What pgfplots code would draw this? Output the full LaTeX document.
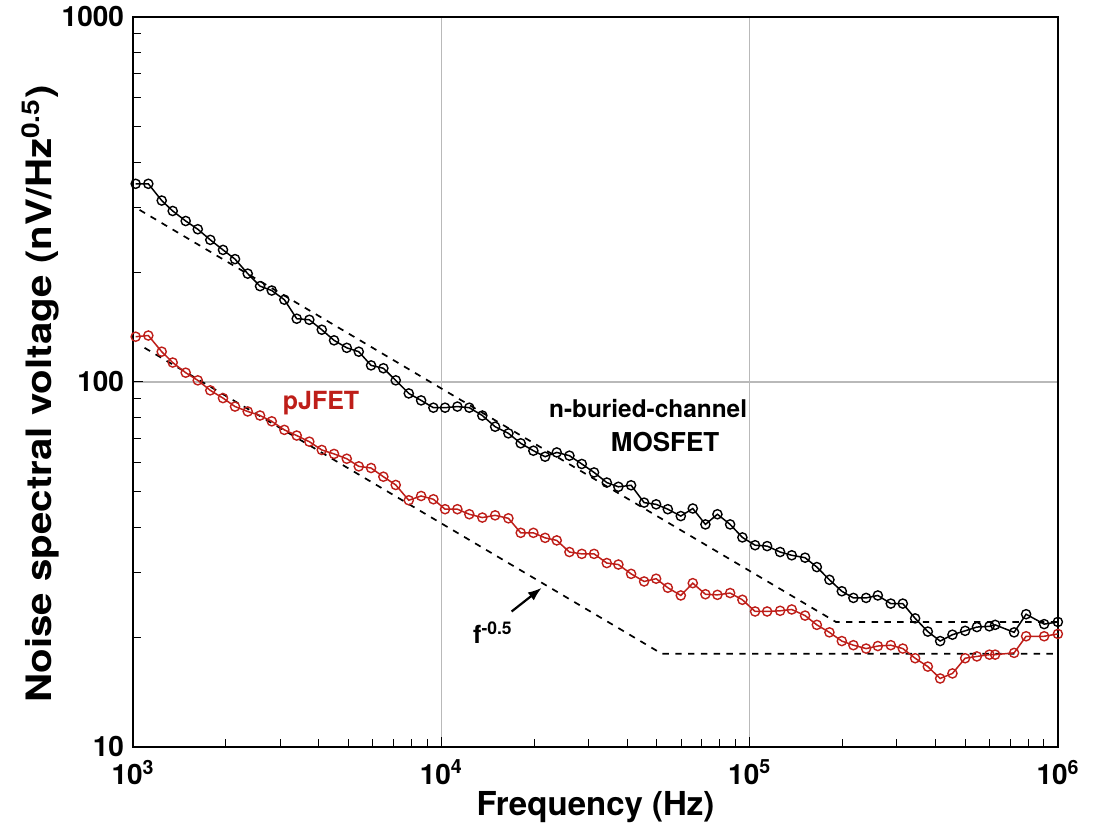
\documentclass[border=0pt]{standalone}
\usepackage{fontspec}
\setmainfont{TeX Gyre Heros}
\usepackage{pgfplots}
\pgfplotsset{compat=1.18}
\usepackage{pgfplotstable}
\usetikzlibrary{arrows.meta}
\definecolor{jred}{RGB}{190,30,25}

\pgfplotstableread{
f v
1020 349
1121 349
1239 314
1345 294
1482 276
1622 262
1781 245
1958 230
2142 217
2355 198
2582 183
2818 178
3096 168
3396 149
3731 148
4094 139
4487 130
4934 124
5397 121
5916 111
6485 109
7113 101
7841 93
8597 89
9422 85
10280 85
11270 85.6
12320 85
13580 80.9
14940 75.4
16500 72.3
18090 67.9
19880 64.8
21700 62.4
23670 64.1
26020 62.8
28540 59.6
31280 56.5
34400 53
37510 51.6
41240 52.1
45450 46.7
49720 46.2
54250 44.8
59780 42.9
65380 45
71840 40.7
78590 43.4
86400 40.7
94690 37.5
104100 35.7
113900 35.5
125500 34.2
136900 33.5
151200 33
165100 31.1
181400 28.7
199000 26.7
216900 25.6
238500 25.6
260300 26
286800 24.7
313700 24.7
344000 22.5
378200 20.7
414600 19.5
454500 20.3
499700 20.8
545400 21.3
599100 21.4
625200 21.6
720300 20.6
787900 23.1
901500 21.7
998600 22
}\mosfet

\pgfplotstableread{
f v
1020 133
1121 134
1239 121
1345 113
1482 106
1622 101
1781 94.8
1958 90.3
2142 85.6
2355 83
2582 80.9
2818 78
3096 73.9
3396 71.3
3731 68.6
4094 65.1
4487 63.5
4934 61.6
5397 58.7
5916 58.1
6485 55
7113 52.2
7841 47.4
8597 48.7
9422 47.7
10280 44.8
11270 44.8
12320 43.4
13580 42.5
14940 43.1
16500 42.3
18090 38.6
19880 38.6
21700 37.4
23670 36.8
26020 34.2
28540 33.8
31280 33.8
34400 31.9
37510 31.6
41240 29.8
45450 28.4
49720 28.9
54250 27.3
59780 26
65380 28.1
71840 26.2
78590 26.1
86400 26.4
94690 25.3
104100 23.5
113900 23.5
125500 23.6
136900 23.8
151200 22.9
165100 21.6
181400 20.6
199000 19.5
216900 19
238500 18.6
260300 18.9
286800 19
313700 18.6
344000 17.5
378200 16.6
414600 15.4
454500 15.9
499700 17.5
545400 17.7
599100 17.9
625200 17.9
720300 18.1
787900 20.1
901500 20.1
998600 20.4
}\pjfet

\begin{document}
\begin{tikzpicture}
\begin{loglogaxis}[
  scale only axis,
  width=462.5pt, height=365pt,
  xmin=1000, xmax=1000000,
  ymin=10, ymax=1000,
  clip=false,
  axis line style={line width=0.8pt},
  xtick={1000,10000,100000,1000000},
  xticklabels={10\textsuperscript{3},10\textsuperscript{4},10\textsuperscript{5},10\textsuperscript{6}},
  ytick={10,100,1000},
  yticklabels={10,100,1000},
  xtick pos=bottom, ytick pos=left,
  tick align=inside,
  major tick length=5pt, minor tick length=4pt,
  every tick/.style={black, line width=0.5pt},
  major grid style={gray!55, line width=0.6pt},
  xmajorgrids, ymajorgrids,
  tick label style={font=\bfseries\fontsize{14}{14}\selectfont},
  xticklabel style={yshift=-3pt},
  yticklabel style={xshift=-1pt},
  xlabel={Frequency (Hz)},
  ylabel={\scalebox{1.15}[1]{Noise spectral voltage (nV/Hz\textsuperscript{0.5})}},
  xlabel style={font=\bfseries\fontsize{16.5}{16.5}\selectfont, at={(rel axis cs:0.5,-0.0822)}, anchor=center},
  ylabel style={font=\bfseries\fontsize{17.5}{17.5}\selectfont, at={(rel axis cs:-0.1,0.4836)}, anchor=center, rotate=0},
]
% invisible frame fixing the page size
\path (rel axis cs:-0.1438,-0.1096) rectangle (rel axis cs:1.0389,1.0205);

% f^-0.5 reference lines
\addplot[black, line width=0.85pt, dash pattern=on 3.2pt off 3.2pt] coordinates {
  (1050,296) (190400,22) (1000000,22)};
\addplot[black, line width=0.85pt, dash pattern=on 3.2pt off 3.2pt] coordinates {
  (1090,124) (51880,18) (1000000,18)};

\addplot[black, line width=0.75pt, mark=o, mark size=2.3pt,
  mark options={solid, fill=white, line width=0.7pt}] table[x=f,y=v] {\mosfet};
\addplot[jred, line width=0.75pt, mark=o, mark size=2.3pt,
  mark options={solid, fill=white, line width=0.7pt}] table[x=f,y=v] {\pjfet};

\node[jred, font=\bfseries\fontsize{12.5}{12.5}\selectfont] at (axis cs:4072,87.3) {pJFET};
\node[font=\bfseries\fontsize{12.2}{12.2}\selectfont] at (axis cs:46820,84.5) {n-buried-channel};
\node[font=\bfseries\fontsize{13}{13}\selectfont] at (axis cs:53170,68.6) {MOSFET};
\node[font=\bfseries\fontsize{12.5}{12.5}\selectfont] at (axis cs:14700,20.6) {f\textsuperscript{-0.5}};
\draw[-{Latex[length=7pt,width=5pt]}, line width=1.1pt] (axis cs:16900,23.5) -- (axis cs:21170,27.3);
\end{loglogaxis}
\end{tikzpicture}
\end{document}
